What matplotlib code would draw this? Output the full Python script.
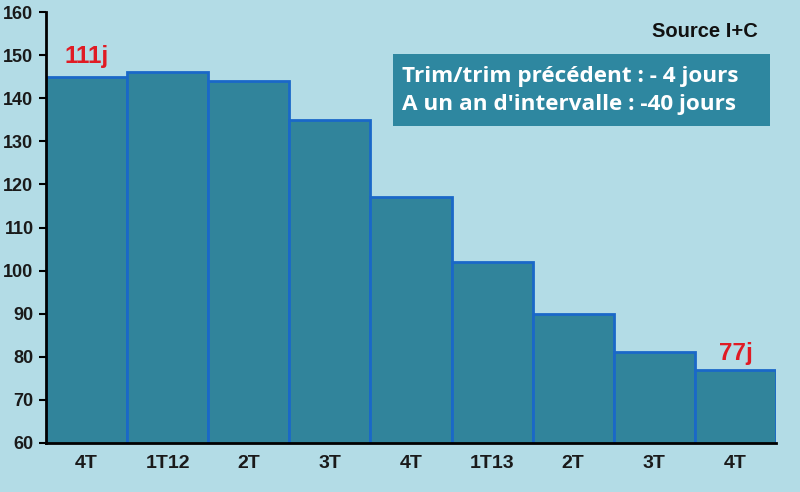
import matplotlib.pyplot as plt
from matplotlib.patches import Rectangle

# Données
trimestres = ["4T", "1T12", "2T", "3T", "4T", "1T13", "2T", "3T", "4T"]
delais = [145, 146, 144, 135, 117, 102, 90, 81, 77]
etiquette_debut = "111j"
etiquette_fin = "77j"

fond = "#B3DCE6"
couleur_barre = "#31849B"
bord_barre = "#1A68C8"

fig = plt.figure(figsize=(8, 4.92), dpi=100, facecolor=fond)
ax = fig.add_axes([0.0575, 0.0996, 0.9125, 0.876])
ax.set_facecolor(fond)

x = list(range(len(trimestres)))
ax.bar(x, delais, width=1.0, bottom=0, color=couleur_barre,
       edgecolor=bord_barre, linewidth=2, zorder=2)

ax.set_xlim(-0.5, len(trimestres) - 0.5)
ax.set_ylim(60, 160)
ax.set_yticks(range(60, 161, 10))
ax.set_xticks(x)
ax.set_xticklabels(trimestres)

for lab in ax.get_xticklabels():
    lab.set_fontfamily("Liberation Sans")
    lab.set_fontweight("bold")
    lab.set_fontsize(14)
    lab.set_color("#1a1a1a")
for lab in ax.get_yticklabels():
    lab.set_fontfamily("Liberation Sans")
    lab.set_fontweight("bold")
    lab.set_fontsize(13)
    lab.set_color("#1a1a1a")

ax.tick_params(axis="x", length=0, pad=9)
ax.tick_params(axis="y", length=5, width=1.5, direction="out", pad=4)
ax.spines["top"].set_visible(False)
ax.spines["right"].set_visible(False)
ax.spines["left"].set_linewidth(2)
ax.spines["bottom"].set_linewidth(2)
ax.spines["bottom"].set_zorder(3)

# Etiquettes rouges
ax.text(x[0], 148.2, etiquette_debut, color="#E01B24",
        fontsize=17.5, fontweight="bold", family="Liberation Sans",
        ha="center", va="baseline")
ax.text(x[-1], 79.3, etiquette_fin, color="#E01B24",
        fontsize=17.5, fontweight="bold", family="Liberation Sans",
        ha="center", va="baseline")

# Source
fig.text(0.947, 0.935, "Source I+C", fontsize=14.5, fontweight="bold",
         family="Liberation Sans", color="#111111", ha="right", va="center")

# Encadré
fig.patches.append(Rectangle((0.491, 0.744), 0.471, 0.146, transform=fig.transFigure,
                             facecolor="#2E87A0", edgecolor="none", zorder=1))
fig.text(0.5025, 0.844, "Trim/trim précédent : - 4 jours", fontsize=16.2,
         fontweight="bold", family="Open Sans", color="white",
         ha="left", va="center")
fig.text(0.5025, 0.787, "A un an d'intervalle : -40 jours", fontsize=16.2,
         fontweight="bold", family="Open Sans", color="white",
         ha="left", va="center")

fig.savefig("out.png", dpi=100, facecolor=fond)
